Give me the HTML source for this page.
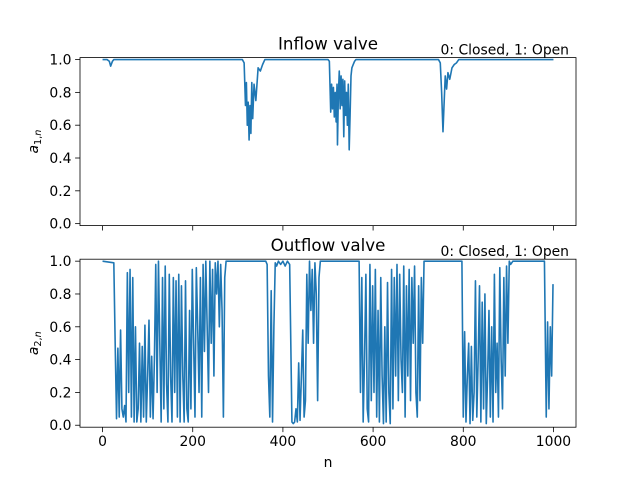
<!DOCTYPE html>
<html><head><meta charset="utf-8"><style>
body{margin:0;background:#fff}
svg{font-family:"DejaVu Sans","Liberation Sans",sans-serif}
</style></head><body>
<svg id="chart" width="640" height="480" viewBox="0 0 640 480"></svg>
<script>
const xTicks=[0,200,400,600,800,1000];
const yTicks=[0,0.2,0.4,0.6,0.8,1.0];
const yTickLabels=["0.0","0.2","0.4","0.6","0.8","1.0"];
const inN=[0,10,15,18,22,25,310,314,317,319,321,323,325,327,329,331,333,336,340,345,350,355,360,500,503,506,508,510,512,514,516,518,520,521,523,525,527,529,531,533,535,537,539,541,543,545,547,549,551,553,556,559,562,566,745,749,752,755,757,760,763,766,770,775,780,785,790,795,800,1000];
const inA=[1,1,0.99,0.96,0.99,1,1,0.98,0.72,0.86,0.6,0.74,0.51,0.72,0.55,0.86,0.64,0.85,0.75,0.95,0.93,0.97,1,1,0.99,0.68,0.85,0.7,0.83,0.65,0.8,0.62,0.85,0.48,0.78,0.93,0.7,0.9,0.72,0.88,0.53,0.87,0.66,0.8,0.6,0.85,0.45,0.66,0.9,0.95,0.97,0.99,1,1,1,0.98,0.8,0.56,0.7,0.9,0.82,0.92,0.88,0.95,0.97,0.98,1,1,1,1];
const outN=[0,25,28,31,34,37,40,43,46,49,52,55,58,61,64,67,70,73,76,79,82,85,88,91,94,97,100,103,106,109,112,115,118,121,124,127,130,133,136,139,142,145,148,151,154,157,160,163,166,169,172,175,178,181,184,187,190,193,196,199,202,205,208,211,214,217,220,223,226,229,232,235,238,241,244,247,250,253,256,259,262,265,268,271,274,362,365,368,371,374,377,380,383,386,390,395,400,405,410,415,420,423,426,429,432,435,438,441,444,447,450,453,456,459,462,465,468,471,474,477,480,483,569,572,575,578,581,584,587,590,593,596,599,602,605,608,611,614,617,620,623,626,629,632,635,638,641,644,647,650,653,656,659,662,665,668,671,674,677,680,683,686,689,692,695,698,701,704,707,710,713,797,800,803,806,809,812,815,818,821,824,827,830,833,836,839,842,845,848,851,854,857,860,863,866,869,872,875,878,881,884,887,890,893,896,899,902,905,910,980,984,987,990,993,996,999];
const outA=[1,0.99,0.5,0.04,0.47,0.05,0.58,0.1,0.05,0.12,0.02,0.93,0.2,0.95,0.05,0.9,0.02,0.6,0.02,0.1,0.5,0.02,0.48,0.05,0.61,0.02,0.3,0.64,0.05,0.42,0.04,0.4,0.98,0.2,1.0,0.5,0.02,0.9,0.1,0.97,0.25,0.02,0.92,0.3,0.02,0.9,0.2,0.88,0.05,0.92,0.02,0.85,0.3,0.02,0.88,0.1,0.02,0.7,0.1,0.95,0.5,0.05,0.96,0.6,0.2,0.9,0.05,0.98,0.45,1.0,0.6,0.2,1.0,0.5,0.95,0.3,0.99,0.8,1.0,0.6,0.98,0.7,0.05,0.9,1,1,0.98,0.3,0.05,0.82,0.02,0.6,0.99,0.97,1,0.98,1,0.97,1,0.98,0.02,0.01,0.02,0.1,0.02,0.38,0.03,0.3,0.58,0.05,0.15,0.92,0.5,1.0,0.7,0.95,0.5,0.99,0.8,0.15,0.9,1,1,0.2,0.9,0.02,0.4,0.92,0.1,0.02,0.98,0.15,0.85,0.2,0.95,0.05,0.7,0.02,0.9,0.3,0.01,0.6,0.02,0.87,0.2,0.01,0.95,0.1,0.9,0.3,0.98,0.15,0.92,0.4,0.2,0.97,0.05,0.85,0.3,0.95,0.15,0.9,0.5,0.97,0.2,0.05,0.85,0.15,0.9,0.5,1,1,0.05,0.57,0.02,0.3,0.5,0.01,0.48,0.03,0.2,0.88,0.05,0.4,0.85,0.02,0.75,0.1,0.8,0.01,0.3,0.7,0.05,0.6,0.02,0.92,0.2,0.5,0.05,0.96,0.4,0.1,0.9,0.3,0.97,0.5,1.0,0.98,1,1,0.05,0.63,0.1,0.6,0.3,0.86];

const NS="http://www.w3.org/2000/svg";
const svg=document.getElementById('chart');
const L=80,R=576,xMin=-50,xMax=1050,yMin=-0.012,yMax=1.012;
function X(v){return L+(v-xMin)/(xMax-xMin)*(R-L);}
function mk(tag,attrs,parent){const e=document.createElementNS(NS,tag);for(const k in attrs)e.setAttribute(k,attrs[k]);(parent||svg).appendChild(e);return e;}
function panel(top,bot,N,A,title,sub,showX,key){
  const Y=v=>bot-(v-yMin)/(yMax-yMin)*(bot-top);
  const g=mk('g',{});
  
  
  let d='';
  const n=Math.min(N.length,A.length);
  for(let i=0;i<n;i++){d+=(i?'L':'M')+X(N[i]).toFixed(2)+','+Y(A[i]).toFixed(2);}
  const p=mk('path',{d:d,fill:'none',stroke:'#1f77b4','stroke-width':1.6,'stroke-linejoin':'round'},g);
  
  
  const f=mk('rect',{x:L,y:top,width:R-L,height:bot-top,fill:'none',stroke:'#000','stroke-width':0.8},g);
  
  
  xTicks.forEach(t=>{
    mk('line',{x1:X(t),x2:X(t),y1:bot,y2:bot+4.9,stroke:'#000','stroke-width':0.8},g);
    if(showX){const tx=mk('text',{x:X(t),y:bot+19,'font-size':13.9,'text-anchor':'middle'},g);tx.textContent=t;
      
      }
  });
  yTicks.forEach((t,i)=>{
    mk('line',{x1:L,x2:L-4.9,y1:Y(t),y2:Y(t),stroke:'#000','stroke-width':0.8},g);
    const ty=mk('text',{x:L-8.5,y:Y(t)+5,'font-size':13.9,'text-anchor':'end'},g);ty.textContent=yTickLabels[i];
    
    
  });
  const tt=mk('text',{x:(L+R)/2,y:top-8,'font-size':16.7,'text-anchor':'middle'},g);tt.textContent=title;
  
  
  const lg=mk('text',{x:R-7,y:top-3,'font-size':13.9,'text-anchor':'end'},g);lg.textContent='0: Closed, 1: Open';
  
  
  const cy=(top+bot)/2;
  const yl=mk('text',{x:0,y:0,'font-size':13.9,'font-style':'italic',transform:'translate(38,'+cy+') rotate(-90)','text-anchor':'middle'},g);
  
  
  yl.innerHTML='a<tspan font-size="9.7" font-style="normal" dy="3">'+sub+',</tspan><tspan font-size="9.7" dy="0">n</tspan>';
}
panel(57.6,225.6,inN,inA,'Inflow valve','1',false,'inflow');
panel(259.2,427.2,outN,outA,'Outflow valve','2',true,'outflow');
const xl=mk('text',{x:(L+R)/2,y:467,'font-size':13.9,'text-anchor':'middle'});
xl.textContent='n';


</script>
</body></html>
